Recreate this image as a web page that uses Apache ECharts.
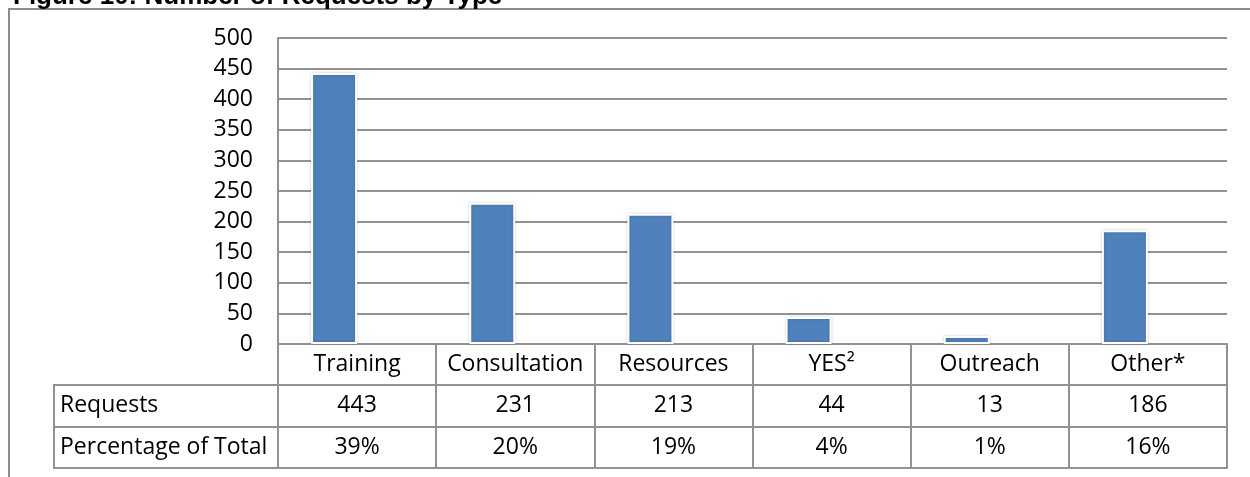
<!DOCTYPE html>
<html>
<head>
<meta charset="utf-8">
<script src="https://cdn.jsdelivr.net/npm/echarts@6/dist/echarts.min.js"></script>
<style>
  html, body { margin: 0; padding: 0; background: #fff; }
  #chart { width: 1250px; height: 477px; }
</style>
</head>
<body>
<div id="chart"></div>
<script>
// ---- data ----
var titleText = 'Figure 10: Number of Requests by Type';
var categories = ['Training', 'Consultation', 'Resources', 'YES\u00B2', 'Outreach', 'Other*'];
var requests = [443, 231, 213, 44, 13, 186];
var percentages = [39, 20, 19, 4, 1, 16];
var rowLabels = ['Requests', 'Percentage of Total'];
var yMin = 0, yMax = 500, yInterval = 50;

// ---- styles ----
var FONT = 'Open Sans';
var FS = 23;
var LINE = '#929292';
var LW = 2;

var tableCells = [];
categories.forEach(function (c, i) {
  tableCells.push([c, rowLabels[0], String(requests[i])]);
  tableCells.push([c, rowLabels[1], percentages[i] + '%']);
});

var chart = echarts.init(document.getElementById('chart'), null, { renderer: 'canvas' });
chart.setOption({
  animation: false,
  backgroundColor: '#fff',
  title: {
    text: titleText,
    left: 8,
    top: -21,
    textStyle: { fontFamily: 'Liberation Sans', fontWeight: 'bold', fontSize: 26, lineHeight: 26, color: '#000' }
  },
  graphic: [{
    type: 'rect',
    shape: { x: 9, y: 9, width: 1400, height: 700 },
    style: { fill: 'none', stroke: '#8c8c8c', lineWidth: 2 },
    silent: true,
    z: -1
  }],
  grid: [
    { left: 278, top: 38, width: 949, height: 306 },
    { left: 278, top: 385, width: 949, height: 83, show: true, borderColor: LINE, borderWidth: LW, backgroundColor: 'transparent' },
    { left: 54, top: 385, width: 224, height: 83, show: true, borderColor: LINE, borderWidth: LW, backgroundColor: 'transparent' }
  ],
  xAxis: [
    {
      type: 'category', gridIndex: 0, data: categories, boundaryGap: true,
      axisLine: { show: true, lineStyle: { color: LINE, width: LW } },
      axisTick: { show: true, interval: 0, length: 41, alignWithLabel: false, lineStyle: { color: LINE, width: LW } },
      axisLabel: { interval: 0, margin: 20, verticalAlign: 'middle', fontFamily: FONT, fontSize: FS, color: '#000' }
    },
    {
      type: 'category', gridIndex: 1, data: categories, boundaryGap: true,
      axisLine: { show: false }, axisTick: { show: false }, axisLabel: { show: false },
      splitLine: { show: true, interval: 0, lineStyle: { color: LINE, width: LW } }
    },
    {
      type: 'value', gridIndex: 2, min: 0, max: 1, show: false
    }
  ],
  yAxis: [
    {
      type: 'value', gridIndex: 0, min: yMin, max: yMax, interval: yInterval,
      axisLine: { show: true, lineStyle: { color: LINE, width: LW } },
      axisTick: { show: false },
      axisLabel: { margin: 25, fontFamily: FONT, fontSize: FS, color: '#000' },
      splitLine: { show: true, lineStyle: { color: LINE, width: LW } }
    },
    {
      type: 'category', gridIndex: 1, data: rowLabels, inverse: true,
      axisLine: { show: false }, axisTick: { show: false }, axisLabel: { show: false },
      splitLine: { show: true, interval: 0, lineStyle: { color: LINE, width: LW } }
    },
    {
      type: 'category', gridIndex: 2, data: rowLabels, inverse: true,
      axisLine: { show: false }, axisTick: { show: false },
      axisLabel: { inside: true, margin: 6, fontFamily: FONT, fontSize: FS, color: '#000' },
      splitLine: { show: true, interval: 0, lineStyle: { color: LINE, width: LW } }
    }
  ],
  series: [
    {
      name: rowLabels[0], type: 'bar', xAxisIndex: 0, yAxisIndex: 0,
      data: requests, barWidth: 46, barGap: '0%',
      itemStyle: { color: '#4F81BD', borderColor: '#ffffff', borderWidth: 2,
        shadowColor: 'rgba(0,0,0,0.18)', shadowBlur: 3 },
      z: 3
    },
    {
      name: rowLabels[1], type: 'bar', xAxisIndex: 0, yAxisIndex: 0,
      data: percentages.map(function (p) { return p / 100; }), barWidth: 46, barGap: '0%',
      itemStyle: { color: '#C0504D', opacity: 0 },
      silent: true
    },
    {
      type: 'scatter', xAxisIndex: 1, yAxisIndex: 1,
      data: tableCells, symbolSize: 0, silent: true,
      itemStyle: { opacity: 1 },
      label: {
        show: true, position: 'inside', opacity: 1,
        formatter: function (p) { return p.value[2]; },
        fontFamily: FONT, fontSize: FS, color: '#000'
      }
    }
  ]
});
</script>
</body>
</html>
